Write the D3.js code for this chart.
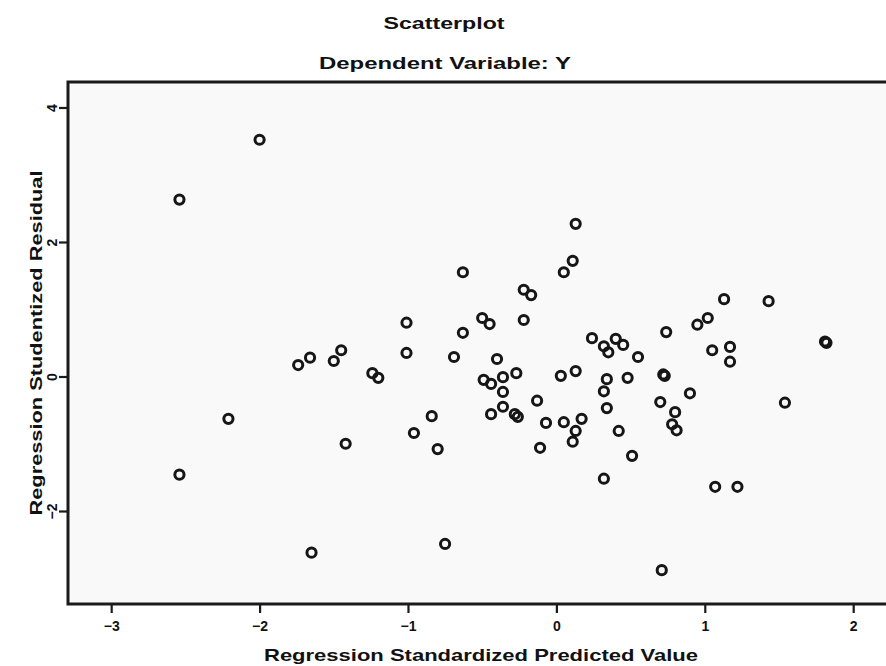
<!DOCTYPE html>
<html>
<head>
<meta charset="utf-8">
<script src="https://cdn.jsdelivr.net/npm/d3@7/dist/d3.min.js"></script>
<style>
  html, body { margin: 0; padding: 0; background: #ffffff; }
  svg { display: block; }
  text { font-family: "Liberation Sans", Arial, sans-serif; font-weight: bold; fill: #111; }
</style>
</head>
<body>
<svg id="chart" width="886" height="666"></svg>
<script>
// ---- data ----
const chartTitle = "Scatterplot";
const chartSubtitle = "Dependent Variable: Y";
const xTitle = "Regression Standardized Predicted Value";
const yTitle = "Regression Studentized Residual";
const xTicks = [-3, -2, -1, 0, 1, 2];
const yTicks = [-2, 0, 2, 4];

// Regression standardized predicted value
const predicted = [
  -2.00, -2.54, -1.74, -1.66, -1.50, -1.45, -2.21, -2.54, -1.65, -1.42,
   0.13, -0.63,  0.11,  0.05, -0.22, -0.17, -1.01, -0.50, -0.45, -0.22,
  -0.63, -1.01, -0.69, -0.40,  0.24,  0.32,  0.35, -1.24, -1.20, -0.49,
  -0.44, -0.36, -0.27,  0.03,  0.13, -0.36, -0.13,  0.34,  0.32, -0.36,
   0.34, -0.84, -0.44, -0.28, -0.26, -0.07,  0.05,  0.17,  0.13,  0.11,
  -0.11, -0.96, -0.80,  0.32, -0.75,  1.13,  1.43,  1.02,  0.95,  0.74,
   1.81,  1.82,  0.40,  0.45,  0.55,  1.05,  1.17,  1.17,  0.48,  0.72,
   0.73,  0.90,  0.70,  0.80,  0.78,  0.81,  1.54,  0.42,  0.51,  1.07,
   1.22,  0.71
];
// Regression studentized residual
const residual = [
   3.52,  2.63,  0.17,  0.28,  0.23,  0.39, -0.63, -1.46, -2.62, -1.00,
   2.27,  1.55,  1.72,  1.55,  1.29,  1.21,  0.80,  0.87,  0.78,  0.84,
   0.65,  0.35,  0.29,  0.26,  0.57,  0.45,  0.36,  0.05, -0.02, -0.05,
  -0.11, -0.01,  0.05,  0.01,  0.08, -0.23, -0.36, -0.04, -0.22, -0.45,
  -0.47, -0.59, -0.56, -0.56, -0.60, -0.69, -0.68, -0.63, -0.81, -0.97,
  -1.06, -0.84, -1.08, -1.52, -2.49,  1.15,  1.12,  0.87,  0.77,  0.66,
   0.52,  0.50,  0.56,  0.47,  0.29,  0.39,  0.44,  0.22, -0.02,  0.03,
   0.01, -0.25, -0.38, -0.53, -0.71, -0.80, -0.39, -0.81, -1.18, -1.64,
  -1.64, -2.88
];

// ---- layout ----
const svg = d3.select("#chart");
const plot = { left: 68, top: 82, right: 894, bottom: 604 };

const x = d3.scaleLinear().domain([-3.291, 2.275]).range([plot.left, plot.right]);
const y = d3.scaleLinear().domain([-3.383, 4.379]).range([plot.bottom, plot.top]);

// plot background
svg.append("rect")
  .attr("x", plot.left).attr("y", plot.top)
  .attr("width", plot.right - plot.left).attr("height", plot.bottom - plot.top)
  .attr("fill", "#f9f9f9");

// points
svg.append("g").selectAll("circle")
  .data(predicted.map((p, i) => [p, residual[i]]))
  .join("circle")
  .attr("cx", d => x(d[0]))
  .attr("cy", d => y(d[1]))
  .attr("r", 4.6)
  .attr("fill", "none")
  .attr("stroke", "#161616")
  .attr("stroke-width", 3);

// frame
svg.append("rect")
  .attr("x", plot.left).attr("y", plot.top)
  .attr("width", plot.right - plot.left).attr("height", plot.bottom - plot.top)
  .attr("fill", "none")
  .attr("stroke", "#1a1a1a")
  .attr("stroke-width", 3);

// x axis
const gx = svg.append("g")
  .attr("transform", `translate(0,${plot.bottom})`)
  .call(d3.axisBottom(x).tickValues(xTicks).tickSize(9).tickPadding(5).tickFormat(d3.format("d")));
gx.select(".domain").remove();
gx.selectAll(".tick line").attr("stroke", "#1a1a1a").attr("stroke-width", 2.2);
gx.selectAll(".tick text")
  .attr("font-size", 14).attr("font-weight", "bold")
  .attr("font-family", "'Liberation Sans', Arial, sans-serif")
  .attr("fill", "#111")
  .attr("dy", "0.9em");

// y axis
const gy = svg.append("g")
  .attr("transform", `translate(${plot.left},0)`)
  .call(d3.axisLeft(y).tickValues(yTicks).tickSize(9).tickFormat(d3.format("d")));
gy.select(".domain").remove();
gy.selectAll(".tick line").attr("stroke", "#1a1a1a").attr("stroke-width", 2.2);
gy.selectAll(".tick text")
  .attr("font-size", 14).attr("font-weight", "bold")
  .attr("font-family", "'Liberation Sans', Arial, sans-serif")
  .attr("fill", "#111")
  .attr("text-anchor", "middle")
  .attr("transform", "rotate(-90)")
  .attr("x", 0).attr("y", -11).attr("dy", 0);

// titles
function addText(str, tx, ty, size, len, rotate) {
  const t = svg.append("text")
    .attr("text-anchor", "middle")
    .attr("font-size", size)
    .attr("transform", rotate ? `translate(${tx},${ty}) rotate(-90)` : `translate(${tx},${ty})`)
    .text(str);
  if (len) t.attr("textLength", len).attr("lengthAdjust", "spacingAndGlyphs");
  return t;
}
addText(chartTitle, 444, 29, 17, 121);
addText(chartSubtitle, 445, 69, 17, 252);
addText(xTitle, 481, 661, 17, 434);
addText(yTitle, 42, 343, 17, 345, true);
</script>
</body>
</html>
